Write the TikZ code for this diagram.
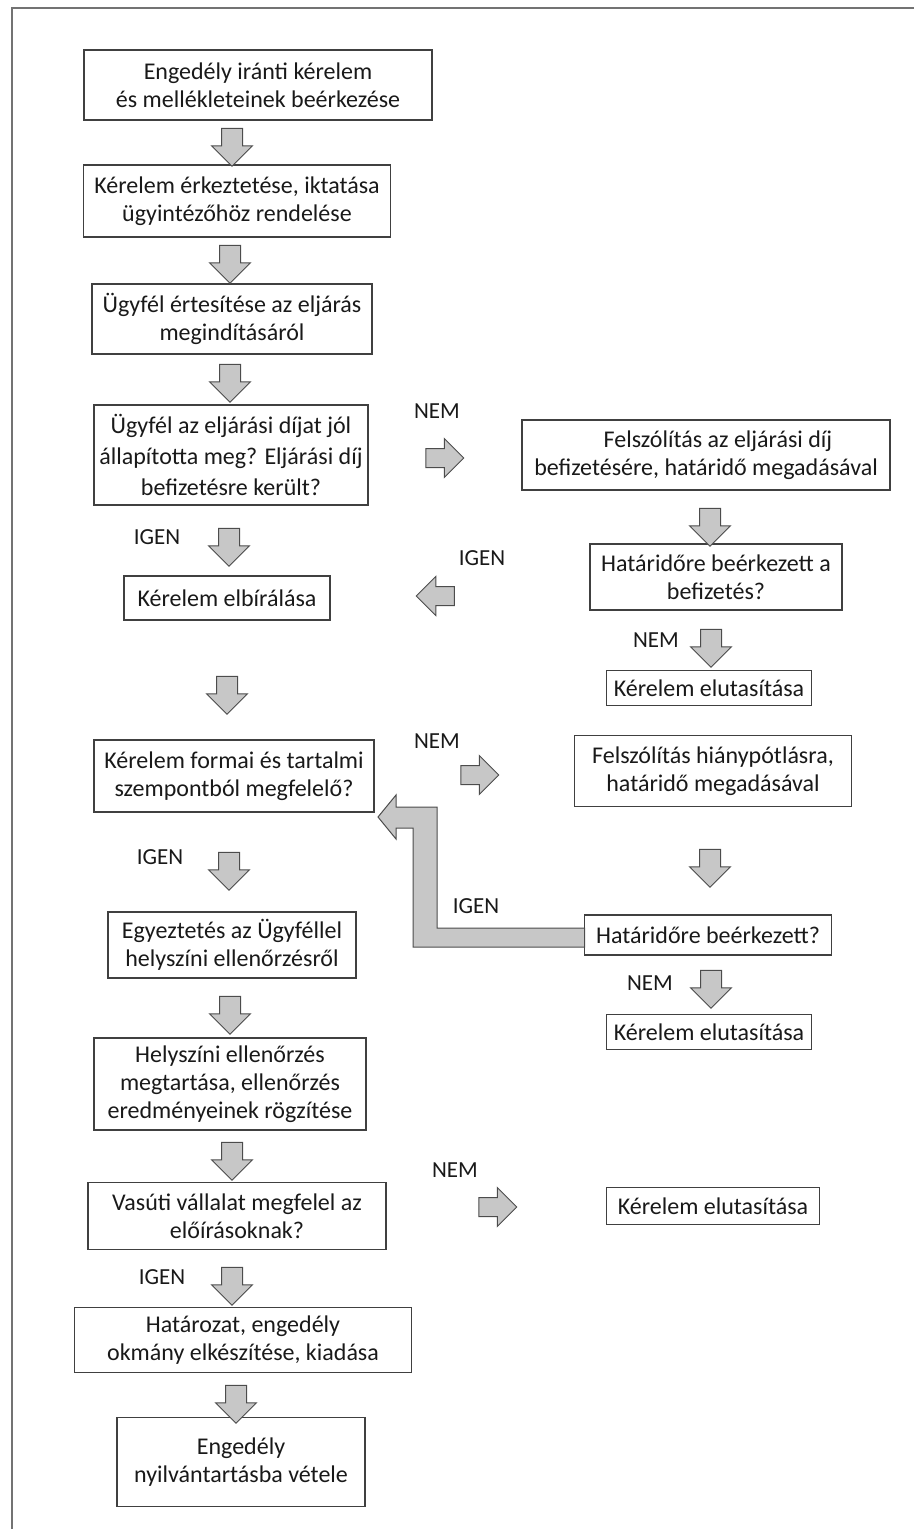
\documentclass[tikz,border=0pt]{standalone}
\usepackage{fontspec}
\setmainfont{Carlito}
\usetikzlibrary{shapes.arrows}

\begin{document}
\begin{tikzpicture}[x=1pt, y=-1pt]
\tikzset{ >=latex, inner sep=0pt, outer sep=0pt,
  box/.style={draw=black!75, line width=1.3pt, align=center, text=black!90,
    font=\fontsize{24}{28}\selectfont},
  lbl/.style={text=black!90, font=\fontsize{23}{26}\selectfont},
  blk/.style={draw=black!70, line width=1pt, fill=black!22},
  darr/.style={blk, single arrow, single arrow head extend=10pt, inner sep=10pt,
    minimum height=38pt, shape border rotate=270},
  rarr/.style={darr, shape border rotate=0, inner sep=9pt},
  larr/.style={darr, shape border rotate=180, inner sep=9pt},
}

\useasboundingbox (0,0) rectangle (914,1529);
\draw [black!55, line width=1.5pt] (914,8) -- (12,8) -- (12,1529);

% main column
\node [box, minimum width=348, minimum height=70] (B1) at (258,85) {Engedély iránti kérelem\\és mellékleteinek beérkezése};
\node [box, minimum width=307, minimum height=72] (B2) at (237,201) {Kérelem érkeztetése, iktatása\\ügyintézőhöz rendelése};
\node [box, minimum width=280, minimum height=70] (B3) at (232,319) {Ügyfél értesítése az eljárás\\megindításáról};
\node [box, minimum width=274, minimum height=100, font=\fontsize{24}{31}\selectfont] (B4) at (231,455) {Ügyfél az eljárási díjat jól\\állapította meg? Eljárási díj\\befizetésre került?};
\node [box, minimum width=206, minimum height=44] (B5) at (227,598) {Kérelem elbírálása};
\node [box, minimum width=280, minimum height=72] (B6) at (234,776) {Kérelem formai és tartalmi\\szempontból megfelelő?};
\node [box, minimum width=248, minimum height=66] (B7) at (232,945) {Egyeztetés az Ügyféllel\\helyszíni ellenőrzésről};
\node [box, minimum width=272, minimum height=92] (B8) at (230,1084) {Helyszíni ellenőrzés\\megtartása, ellenőrzés\\eredményeinek rögzítése};
\node [box, minimum width=298, minimum height=67] (B9) at (237,1216) {Vasúti vállalat megfelel az\\előírásoknak?};
\node [box, minimum width=337, minimum height=65] (B10) at (243,1340) {Határozat, engedély\\okmány elkészítése, kiadása};
\node [box, minimum width=248, minimum height=89] (B11) at (241,1462) {Engedély\\nyilvántartásba vétele};

% right column
\node [box, minimum width=368, minimum height=70] (R1) at (706,455) {\hspace*{24pt}Felszólítás az eljárási díj\\befizetésére, határidő megadásával};
\node [box, minimum width=252, minimum height=66] (R2) at (716,577) {Határidőre beérkezett a\\befizetés?};
\node [box, minimum width=205, minimum height=35] (R3) at (709,688) {Kérelem elutasítása};
\node [box, minimum width=277, minimum height=71] (R4) at (713,771) {Felszólítás hiánypótlásra,\\határidő megadásával};
\node [box, minimum width=247, minimum height=40] (R5) at (708,935) {Határidőre beérkezett?};
\node [box, minimum width=205, minimum height=35] (R6) at (709,1032) {Kérelem elutasítása};
\node [box, minimum width=213, minimum height=37] (R7) at (713,1206) {Kérelem elutasítása};

% block arrows
\node [darr] (A1) at (232,142) {};
\node [darr] (A2) at (230,259) {};
\node [darr] (A3) at (230,378) {};
\node [darr] (A4) at (229,542) {};
\node [darr] (A5) at (227,690) {};
\node [darr] (A6) at (229,866) {};
\node [darr] (A7) at (230,1010) {};
\node [darr] (A8) at (232,1156) {};
\node [darr] (A9) at (232,1281) {};
\node [darr] (A10) at (236,1399) {};

\node [darr] (RA1) at (710,522) {};
\node [darr] (RA2) at (711,643) {};
\node [darr] (RA3) at (710,863) {};
\node [darr] (RA4) at (711,984) {};

\node [rarr] (H1) at (440,458) {};
\node [larr] (H2) at (440,596) {};
\node [rarr] (H3) at (475,775) {};
\node [rarr] (H4) at (493,1207) {};

\draw [blk] ([yshift=7pt]R5.west) -- (437,928) -- (437,807) -- (396,807) -- (396,795)
  -- (378,817) -- (396,839) -- (396,828) -- (413,828) -- (413,947) -- ([yshift=-12pt]R5.west) -- cycle;

% labels
\node [lbl] (nem1) at (437,411) {NEM};
\node [lbl] (igen1) at (157,537) {IGEN};
\node [lbl] (igen2) at (482,558) {IGEN};
\node [lbl] (nem2) at (656,640) {NEM};
\node [lbl] (nem3) at (437,741) {NEM};
\node [lbl] (igen3) at (160,857) {IGEN};
\node [lbl] (igen4) at (476,906) {IGEN};
\node [lbl] (nem4) at (650,983) {NEM};
\node [lbl] (nem5) at (455,1170) {NEM};
\node [lbl] (igen5) at (162,1277) {IGEN};

\end{tikzpicture}
\end{document}
